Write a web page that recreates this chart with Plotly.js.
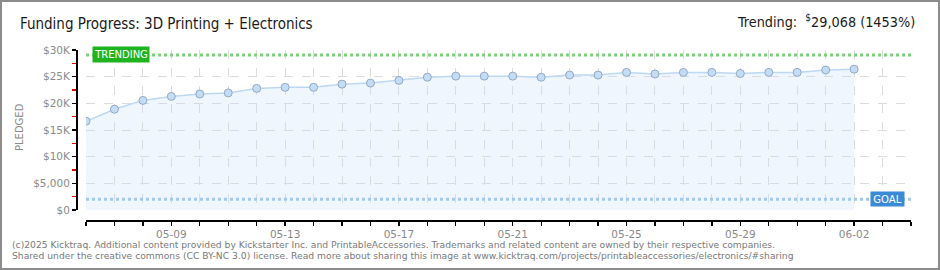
<!DOCTYPE html>
<html>
<head>
<meta charset="utf-8">
<script src="https://cdn.plot.ly/plotly-3.0.1.min.js"></script>
<style>
  html, body { margin: 0; padding: 0; background: #fff; }
  #wrap { position: relative; width: 940px; height: 270px; }
  #chart { width: 940px; height: 270px; }
  #frame { position: absolute; left: 0; top: 0; width: 940px; height: 270px; box-sizing: border-box; border: 2px solid #8c8c8c; pointer-events: none; }
</style>
</head>
<body>
<div id="wrap"><div id="chart"></div><div id="frame"></div></div>
<script>
// ---- data ----
const dates = [
  '2025-05-06','2025-05-07','2025-05-08','2025-05-09','2025-05-10','2025-05-11','2025-05-12',
  '2025-05-13','2025-05-14','2025-05-15','2025-05-16','2025-05-17','2025-05-18','2025-05-19',
  '2025-05-20','2025-05-21','2025-05-22','2025-05-23','2025-05-24','2025-05-25','2025-05-26',
  '2025-05-27','2025-05-28','2025-05-29','2025-05-30','2025-05-31','2025-06-01','2025-06-02'
];
const pledged = [
  16650, 18900, 20550, 21300, 21750, 21950, 22800,
  23000, 23000, 23600, 23800, 24300, 24900, 25100,
  25100, 25100, 24900, 25300, 25300, 25800, 25500,
  25800, 25800, 25600, 25800, 25800, 26250, 26400
];
const goal = 2000;
const trending = 29068;
const trendingPct = 1453;
const xTickDates = ['2025-05-09','2025-05-13','2025-05-17','2025-05-21','2025-05-25','2025-05-29','2025-06-02'];
const xTickLabels = ['05-09','05-13','05-17','05-21','05-25','05-29','06-02'];
const yTickVals = [0, 5000, 10000, 15000, 20000, 25000, 30000];
const yTickLabels = ['$0', '$5,000', '$10K', '$15K', '$20K', '$25K', '$30K'];
const yMinorVals = [2500, 7500, 12500, 17500, 22500, 27500];
const titleText = 'Funding Progress: 3D Printing + Electronics';
const footerLines = [
  '(c)2025 Kicktraq. Additional content provided by Kickstarter Inc. and PrintableAccessories. Trademarks and related content are owned by their respective companies.',
  'Shared under the creative commons (CC BY-NC 3.0) license. Read more about sharing this image at www.kicktraq.com/projects/printableaccessories/electronics/#sharing'
];

// ---- geometry helpers (pixel -> paper) ----
const W = 940, H = 270, ML = 76, MR = 29, MT = 50, MB = 50;
const PW = W - ML - MR, PH = H - MT - MB;
const px = x => (x - ML) / PW;
const py = y => (H - MB - y) / PH;

const tickFont = { family: 'DejaVu Sans, sans-serif', size: 10.5, color: '#8a8a8a' };
const headFont = { family: 'DejaVu Sans Condensed, sans-serif', size: 15, color: '#1a1a1a' };
const DAY = 86400000;
const gridStyle = { showgrid: true, gridcolor: '#dcdcdc', griddash: 'dash', gridwidth: 1 };

const traces = [{
  type: 'scatter',
  mode: 'lines+markers',
  x: dates,
  y: pledged,
  fill: 'tozeroy',
  fillcolor: 'rgba(190,218,248,0.25)',
  line: { color: '#bcd8f3', width: 1.5 },
  marker: { size: 8, color: '#c4ddf7', line: { color: '#93a9c2', width: 1 } },
  hoverinfo: 'x+y'
}, {
  // invisible carrier trace so the red minor-tick axis is drawn
  type: 'scatter', mode: 'markers', x: dates, y: pledged, yaxis: 'y2',
  marker: { opacity: 0 }, hoverinfo: 'skip'
}];

const layout = {
  width: W, height: H,
  margin: { l: ML, r: MR, t: MT, b: MB, pad: 0 },
  paper_bgcolor: '#ffffff',
  plot_bgcolor: '#ffffff',
  showlegend: false,
  title: {
    text: titleText,
    xref: 'container', yref: 'container',
    x: 20 / W, xanchor: 'left',
    y: 1 - 24 / H, yanchor: 'middle',
    font: headFont
  },
  xaxis: Object.assign({
    type: 'date',
    range: ['2025-05-06', '2025-06-04'],
    domain: [10 / PW, 1],
    anchor: 'free', position: 0,
    showline: true, linecolor: '#000', linewidth: 1.5,
    tickmode: 'array', tickvals: xTickDates, ticktext: xTickLabels,
    ticks: 'outside', ticklen: 4, tickcolor: '#000', tickwidth: 1.3,
    tickfont: tickFont,
    zeroline: false,
    minor: Object.assign({
      tick0: '2025-05-06', dtick: DAY,
      ticks: 'outside', ticklen: 4, tickcolor: '#000', tickwidth: 1.3
    }, gridStyle)
  }, gridStyle),
  yaxis: Object.assign({
    range: [0, 30000],
    domain: [10 / PH, 1],
    anchor: 'free', position: 0,
    showline: true, linecolor: '#000', linewidth: 1.5,
    tickmode: 'array', tickvals: yTickVals, ticktext: yTickLabels,
    ticks: 'outside', ticklen: 4, tickcolor: '#000', tickwidth: 1.3,
    tickfont: tickFont,
    zeroline: false
  }, gridStyle),
  yaxis2: {
    range: [0, 30000],
    overlaying: 'y',
    anchor: 'free', position: 0, side: 'left',
    showline: false, showgrid: false, zeroline: false,
    tickmode: 'array', tickvals: yMinorVals, showticklabels: false,
    ticks: 'outside', ticklen: 4, tickcolor: '#e00000', tickwidth: 1.3
  },
  shapes: [
    { type: 'line', xref: 'x domain', yref: 'y', x0: 0, x1: 1, y0: trending, y1: trending,
      line: { color: '#7fcf7f', width: 3, dash: 'dot' } },
    { type: 'line', xref: 'x domain', yref: 'y', x0: 0, x1: 1, y0: goal, y1: goal,
      line: { color: '#a3c8ef', width: 3, dash: 'dot' } }
  ],
  annotations: [
    { text: 'Trending:  <sup>$</sup>' + trending.toLocaleString('en-US') + ' (' + trendingPct + '%)',
      xref: 'paper', yref: 'paper', x: px(917), y: py(21), xanchor: 'right', yanchor: 'middle',
      showarrow: false, font: Object.assign({}, headFont, { size: 14.3 }) },
    { text: 'TRENDING', xref: 'paper', yref: 'y', x: px(121), y: trending, xanchor: 'center', yanchor: 'middle',
      showarrow: false, bgcolor: '#1fb41f', borderpad: 1, width: 54, height: 13,
      font: { family: 'DejaVu Sans, sans-serif', size: 10, color: '#ffffff' } },
    { text: 'GOAL', xref: 'paper', yref: 'y', x: px(887.5), y: goal, xanchor: 'center', yanchor: 'middle',
      showarrow: false, bgcolor: '#3b8ad8', borderpad: 1, width: 31, height: 12,
      font: { family: 'DejaVu Sans, sans-serif', size: 10, color: '#ffffff' } },
    { text: 'PLEDGED', xref: 'paper', yref: 'paper', x: px(20), y: py(127), xanchor: 'center', yanchor: 'middle',
      textangle: -90, showarrow: false,
      font: { family: 'DejaVu Sans, sans-serif', size: 10, color: '#8a8a8a' } },
    { text: footerLines[0], xref: 'paper', yref: 'paper', x: px(10), y: py(244), xanchor: 'left', yanchor: 'middle',
      showarrow: false, font: { family: 'DejaVu Sans, sans-serif', size: 9.2, color: '#7a7a7a' } },
    { text: footerLines[1], xref: 'paper', yref: 'paper', x: px(10), y: py(256), xanchor: 'left', yanchor: 'middle',
      showarrow: false, font: { family: 'DejaVu Sans, sans-serif', size: 9.2, color: '#7a7a7a' } }
  ]
};

Plotly.newPlot('chart', traces, layout, { displayModeBar: false, staticPlot: true });
</script>
</body>
</html>
